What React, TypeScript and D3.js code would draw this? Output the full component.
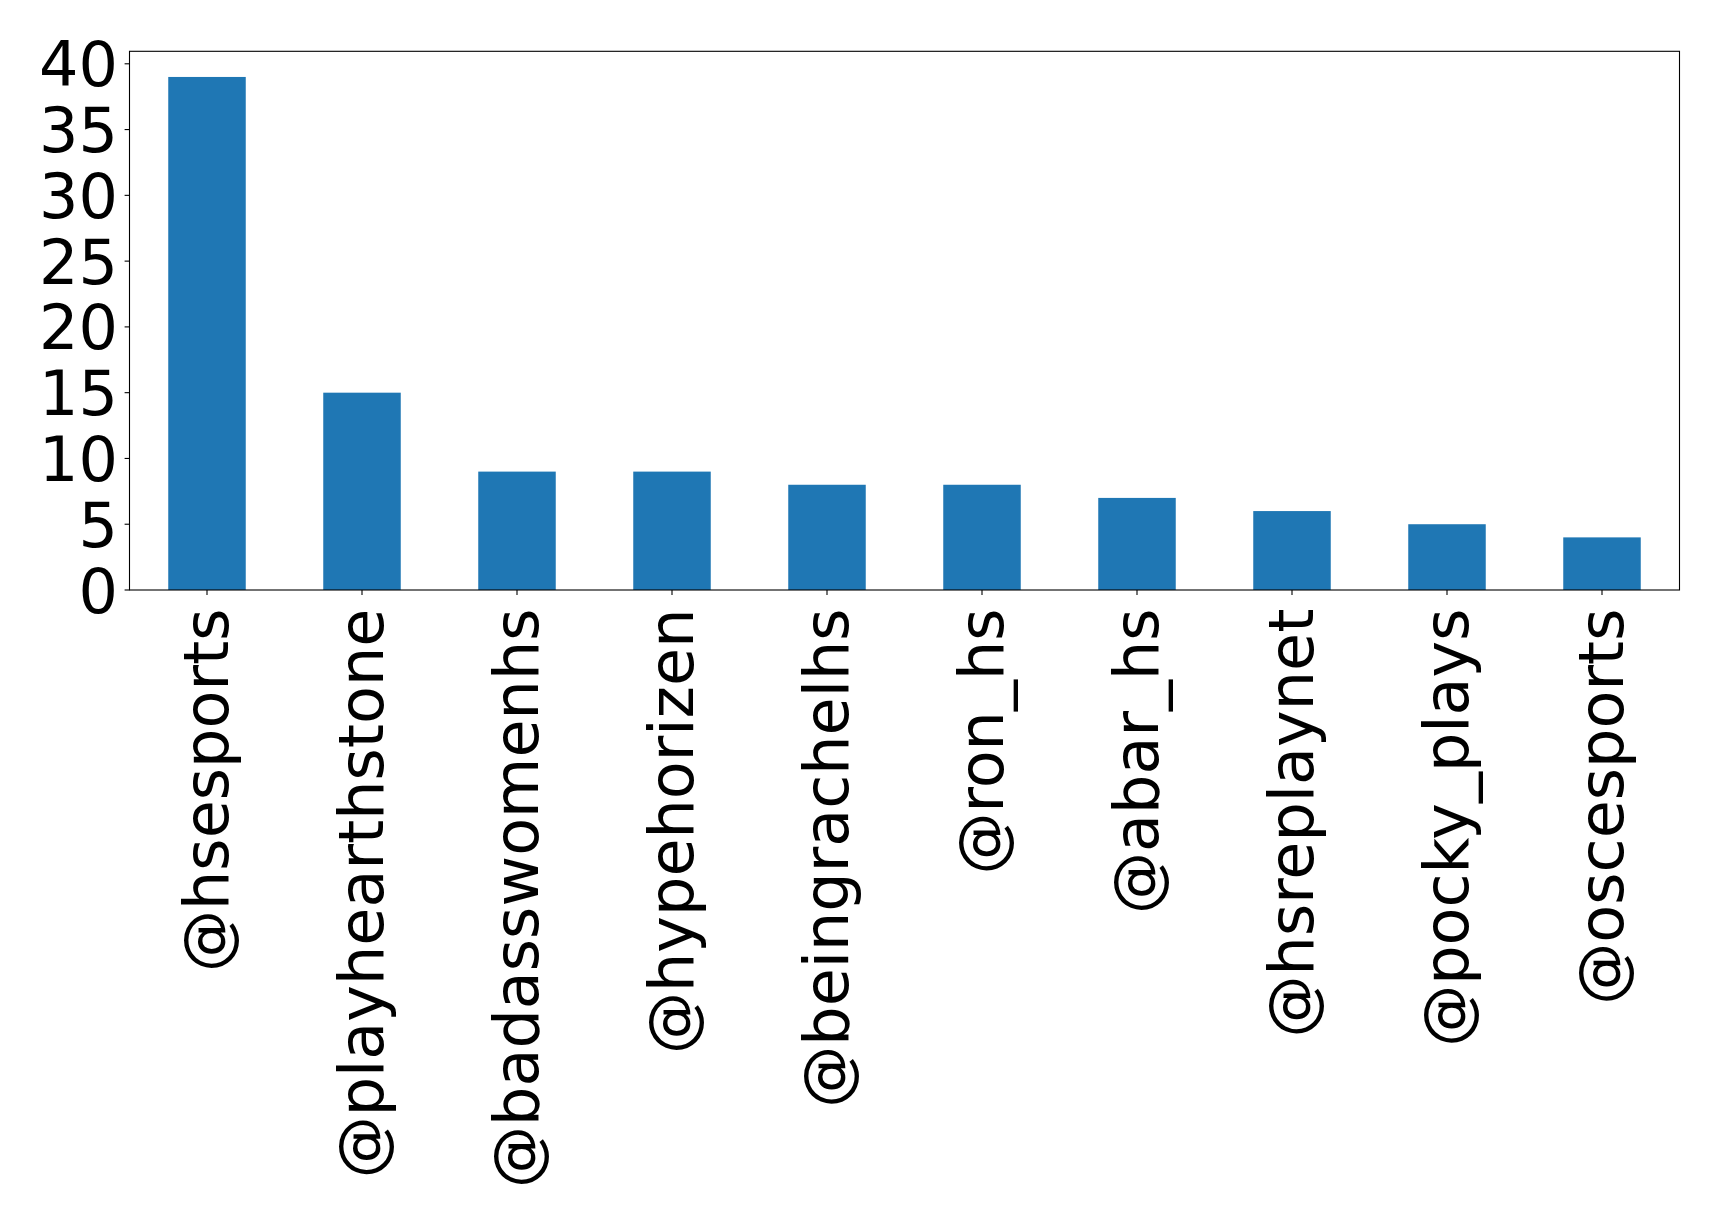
import React from "react";
import * as d3 from "d3";

const categories = [
  "@hsesports",
  "@playhearthstone",
  "@badasswomenhs",
  "@hypehorizen",
  "@beingrachelhs",
  "@ron_hs",
  "@abar_hs",
  "@hsreplaynet",
  "@pocky_plays",
  "@oscesports",
];
const values = [39, 15, 9, 9, 8, 8, 7, 6, 5, 4];
const yTicks = [0, 5, 10, 15, 20, 25, 30, 35, 40];

const W = 1719;
const H = 1223;
const left = 129.5;
const right = 1679.5;
const top = 51.3;
const bottom = 590;
const FONT = "'DejaVu Sans', sans-serif";
const FS = 62;
const XFS = 62;

export default function App() {
  const x = d3.scaleLinear().domain([-0.5, categories.length - 0.5]).range([left, right]);
  const y = d3.scaleLinear().domain([0, d3.max(values)! * 1.05]).range([bottom, top]);
  const bw = x(0.25) - x(0);
  return (
    <svg width={W} height={H} style={{ position: "absolute", left: 0, top: 0, background: "#fff" }} fontFamily={FONT}>
      <rect x={0} y={0} width={W} height={H} fill="#fff" />
      {values.map((v, i) => (
        <rect key={i} x={x(i) - bw} y={y(v)} width={bw * 2} height={y(0) - y(v)} fill="#1f77b4" />
      ))}
      <rect x={left} y={top} width={right - left} height={bottom - top} fill="none" stroke="#000" strokeWidth={1.1} />
      {yTicks.map((t) => (
        <g key={t}>
          <line x1={left - 4.9} x2={left} y1={y(t)} y2={y(t)} stroke="#000" strokeWidth={1.1} />
          <text x={left - 11.5} y={y(t)} dy={22.5} textAnchor="end" fontSize={FS} fill="#000">
            {t}
          </text>
        </g>
      ))}
      {categories.map((c, i) => (
        <g key={c}>
          <line x1={x(i)} x2={x(i)} y1={bottom} y2={bottom + 4.9} stroke="#000" strokeWidth={1.1} />
          <text
            transform={`translate(${x(i) + 21},${bottom + 18.5}) rotate(-90)`}
            textAnchor="end"
            fontSize={XFS}
            fill="#000"
          >
            {c}
          </text>
        </g>
      ))}
    </svg>
  );
}
